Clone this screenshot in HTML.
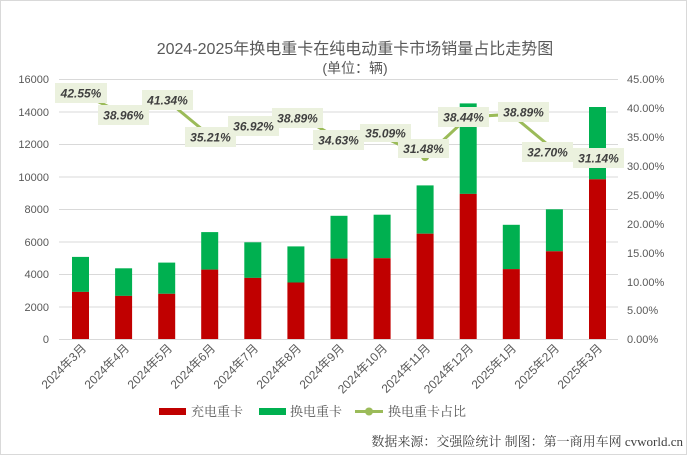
<!DOCTYPE html>
<html><head><meta charset="utf-8"><style>
html,body{margin:0;padding:0;background:#fff}
svg{display:block;font-family:"Liberation Sans","Noto Sans CJK SC",sans-serif}
.serif{font-family:"Liberation Serif","Noto Serif CJK SC",serif}
</style></head><body>
<svg width="687" height="455" viewBox="0 0 687 455" xmlns="http://www.w3.org/2000/svg">
<rect x="0.5" y="0.5" width="686" height="454" fill="#fff" stroke="#d9d9d9"/>
<text x="355" y="54" text-anchor="middle" font-size="16" fill="#595959">2024-2025年换电重卡在纯电动重卡市场销量占比走势图</text>
<text x="355" y="73" text-anchor="middle" font-size="14" fill="#595959">(单位：辆)</text>
<g stroke="#d9d9d9" stroke-width="1">
<line x1="59" x2="618" y1="79.5" y2="79.5"/><line x1="59" x2="618" y1="112" y2="112"/>
<line x1="59" x2="618" y1="144.5" y2="144.5"/><line x1="59" x2="618" y1="177" y2="177"/>
<line x1="59" x2="618" y1="209.5" y2="209.5"/><line x1="59" x2="618" y1="242" y2="242"/>
<line x1="59" x2="618" y1="274.5" y2="274.5"/><line x1="59" x2="618" y1="307" y2="307"/>
<line x1="59" x2="618" y1="339.5" y2="339.5"/>
</g>
<g font-size="11" fill="#595959" text-anchor="end">
<text x="49" y="83">16000</text><text x="49" y="116">14000</text><text x="49" y="148">12000</text>
<text x="49" y="181">10000</text><text x="49" y="213">8000</text><text x="49" y="246">6000</text>
<text x="49" y="278">4000</text><text x="49" y="311">2000</text><text x="49" y="343">0</text>
</g>
<g font-size="11" fill="#595959">
<text x="627" y="83">45.00%</text><text x="627" y="112">40.00%</text><text x="627" y="141">35.00%</text>
<text x="627" y="170">30.00%</text><text x="627" y="199">25.00%</text><text x="627" y="228">20.00%</text>
<text x="627" y="257">15.00%</text><text x="627" y="286">10.00%</text><text x="627" y="314">5.00%</text>
<text x="627" y="343">0.00%</text>
</g>
<g fill="#00b050">
<rect x="72" y="256.9" width="17" height="35"/><rect x="115.1" y="268.3" width="17" height="27.6"/>
<rect x="158.2" y="262.6" width="17" height="31.2"/><rect x="201.2" y="232.1" width="17" height="37.5"/>
<rect x="244.3" y="242.3" width="17" height="35.6"/><rect x="287.4" y="246.4" width="17" height="36.1"/>
<rect x="330.5" y="215.8" width="17" height="42.8"/><rect x="373.6" y="214.7" width="17" height="43.5"/>
<rect x="416.6" y="185.4" width="17" height="48.3"/><rect x="459.7" y="103.4" width="17" height="90.5"/>
<rect x="502.8" y="224.8" width="17" height="44.3"/><rect x="545.9" y="209.3" width="17" height="42"/>
<rect x="589" y="107" width="17" height="72.3"/>
</g>
<g fill="#c00000">
<rect x="72" y="291.9" width="17" height="47.1"/><rect x="115.1" y="295.9" width="17" height="43.1"/>
<rect x="158.2" y="293.8" width="17" height="45.2"/><rect x="201.2" y="269.6" width="17" height="69.4"/>
<rect x="244.3" y="277.9" width="17" height="61.1"/><rect x="287.4" y="282.5" width="17" height="56.5"/>
<rect x="330.5" y="258.6" width="17" height="80.4"/><rect x="373.6" y="258.2" width="17" height="80.8"/>
<rect x="416.6" y="233.7" width="17" height="105.3"/><rect x="459.7" y="193.9" width="17" height="145.1"/>
<rect x="502.8" y="269.1" width="17" height="69.9"/><rect x="545.9" y="251.3" width="17" height="87.7"/>
<rect x="589" y="179.3" width="17" height="159.7"/>
</g>
<polyline fill="none" stroke="#9bbb59" stroke-width="3" stroke-linejoin="round" points="80.5,93.2 123.6,113.9 166.7,100.1 209.7,135.6 252.8,125.7 295.9,114.3 339,138.9 382.1,136.3 425.1,157.1 468.2,116.9 511.3,114.3 554.4,150.1 597.5,159.1"/>
<g fill="#9bbb59"><circle cx="425.1" cy="157.1" r="4"/></g>
<g fill="#ebf1de">
<rect x="55" y="83" width="52" height="20"/><rect x="98" y="105" width="51" height="20"/>
<rect x="142" y="90" width="51" height="20"/><rect x="185" y="127" width="51" height="20"/>
<rect x="228" y="116" width="51" height="20"/><rect x="272" y="108" width="51" height="20"/>
<rect x="313" y="130" width="51" height="20"/><rect x="360" y="124" width="51" height="18"/>
<rect x="398" y="139" width="51" height="19"/><rect x="438" y="107" width="51" height="20"/>
<rect x="498" y="102" width="51" height="20"/><rect x="522" y="142" width="51" height="20"/>
<rect x="573" y="148" width="51" height="20"/>
</g>
<g font-size="12" font-weight="bold" font-style="italic" fill="#404040" text-anchor="middle">
<text x="81" y="97.5">42.55%</text><text x="123.5" y="119.5">38.96%</text>
<text x="167.5" y="104.5">41.34%</text><text x="210.5" y="141.5">35.21%</text>
<text x="253.5" y="130.5">36.92%</text><text x="297.5" y="122.5">38.89%</text>
<text x="338.5" y="144.5">34.63%</text><text x="385.5" y="137.5">35.09%</text>
<text x="423.5" y="153">31.48%</text><text x="463.5" y="121.5">38.44%</text>
<text x="523.5" y="116.5">38.89%</text><text x="547.5" y="156.5">32.70%</text>
<text x="598.5" y="162.5">31.14%</text>
</g>
<g font-size="12" fill="#595959" text-anchor="end">
<text transform="translate(87,349) rotate(-45)">2024年3月</text>
<text transform="translate(130,349) rotate(-45)">2024年4月</text>
<text transform="translate(173,349) rotate(-45)">2024年5月</text>
<text transform="translate(216,349) rotate(-45)">2024年6月</text>
<text transform="translate(259,349) rotate(-45)">2024年7月</text>
<text transform="translate(302,349) rotate(-45)">2024年8月</text>
<text transform="translate(345,349) rotate(-45)">2024年9月</text>
<text transform="translate(388,349) rotate(-45)">2024年10月</text>
<text transform="translate(431,349) rotate(-45)">2024年11月</text>
<text transform="translate(474,349) rotate(-45)">2024年12月</text>
<text transform="translate(517,349) rotate(-45)">2025年1月</text>
<text transform="translate(560,349) rotate(-45)">2025年2月</text>
<text transform="translate(603,349) rotate(-45)">2025年3月</text>
</g>
<rect x="159" y="408" width="27" height="7" fill="#c00000"/>
<text class="serif" x="191" y="416" font-size="13" fill="#595959">充电重卡</text>
<rect x="259" y="408" width="27" height="7" fill="#00b050"/>
<text class="serif" x="290" y="416" font-size="13" fill="#595959">换电重卡</text>
<line x1="355" x2="383" y1="411.5" y2="411.5" stroke="#9bbb59" stroke-width="3"/>
<circle cx="369" cy="411.5" r="4" fill="#9bbb59"/>
<text class="serif" x="388" y="416" font-size="13" fill="#595959">换电重卡占比</text>
<text class="serif" x="683" y="446" text-anchor="end" font-size="13" fill="#404040">数据来源：交强险统计 制图：第一商用车网 cvworld.cn</text>
</svg>
</body></html>
